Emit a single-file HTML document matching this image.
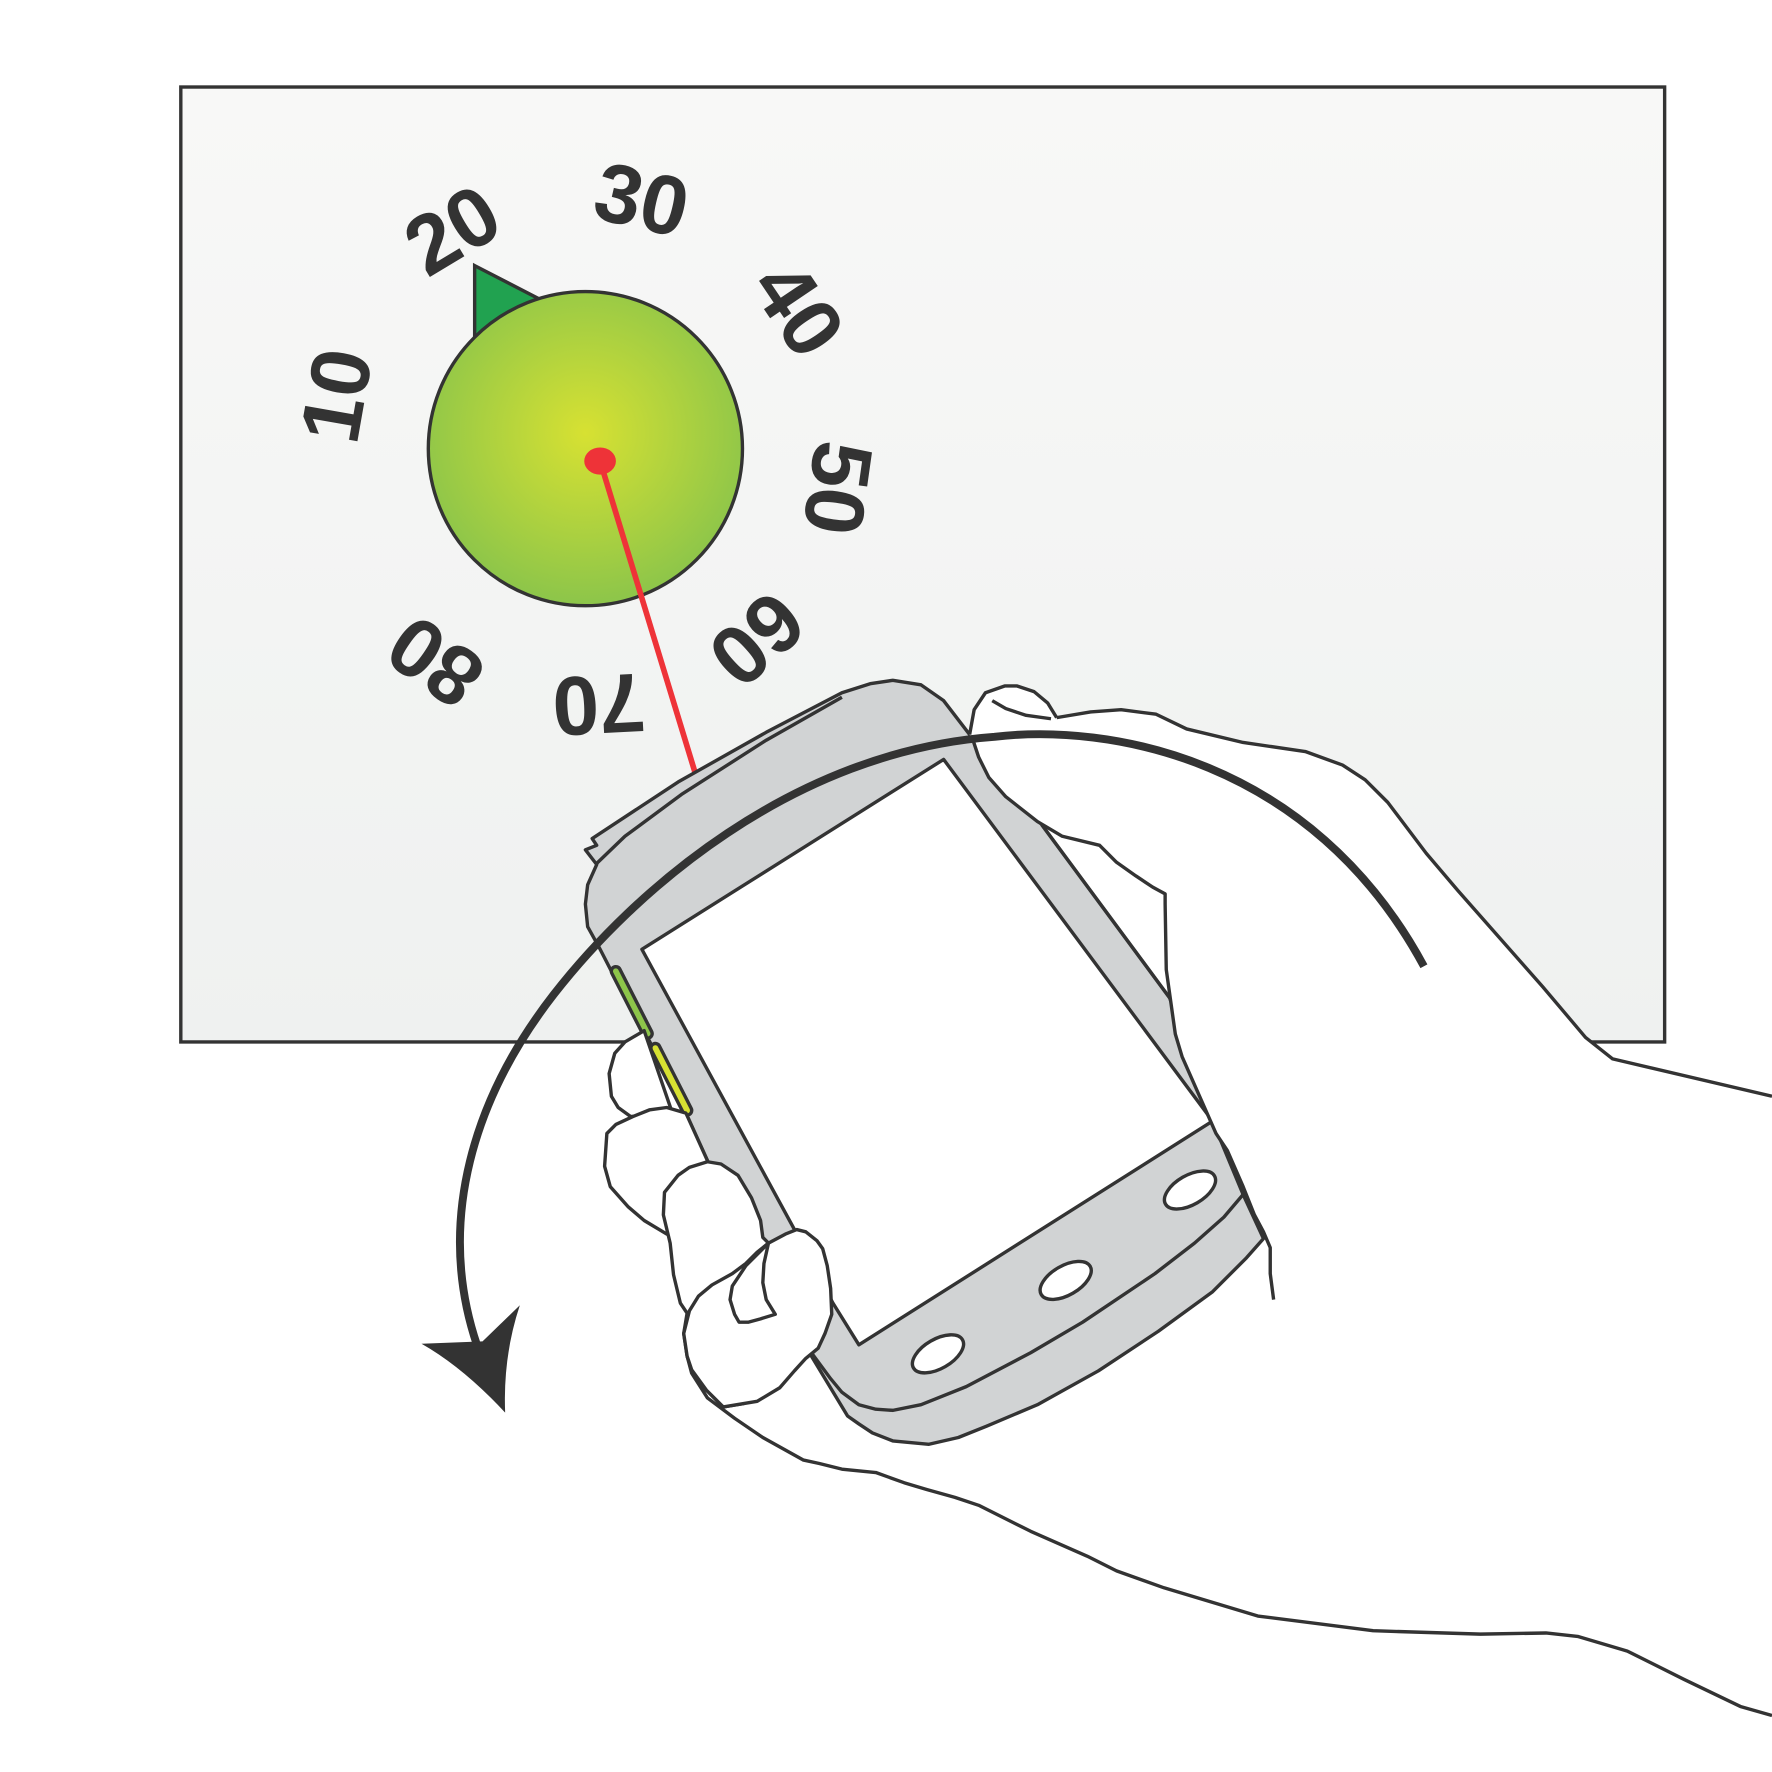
<!DOCTYPE html>
<html><head><style>html,body{margin:0;padding:0;background:#fff}svg{display:block}</style></head>
<body>
<svg width="1772" height="1772" viewBox="0 0 1568 1568" xmlns="http://www.w3.org/2000/svg">
<defs>
<linearGradient id="bg" x1="0" y1="0" x2="0" y2="1"><stop offset="0" stop-color="#f8f8f7"/><stop offset="1" stop-color="#eff1f0"/></linearGradient>
<radialGradient id="dg" cx="0.5" cy="0.45" r="0.55"><stop offset="0" stop-color="#d7e132"/><stop offset="1" stop-color="#8cc54a"/></radialGradient>
</defs>
<rect x="160" y="77" width="1313" height="845" fill="url(#bg)" stroke="#333" stroke-width="3"/>
<polygon points="420,235 480,266 420,300" fill="#21a250" stroke="#333" stroke-width="3"/>
<circle cx="518" cy="397" r="139" fill="url(#dg)" stroke="#333" stroke-width="3"/>
<g font-family="Liberation Sans, sans-serif" font-weight="bold" font-size="74" fill="#333" text-anchor="middle">
<text transform="translate(297,350) rotate(-80)" dy="26">10</text>
<text transform="translate(400,203) rotate(-31)" dy="26">20</text>
<text transform="translate(568,176) rotate(13)" dy="26">30</text>
<text transform="translate(707,273) rotate(56)" dy="26">40</text>
<text transform="translate(742,432) rotate(98)" dy="26">50</text>
<text transform="translate(670,566) rotate(138)" dy="26">60</text>
<text transform="translate(530,624) rotate(177)" dy="26">70</text>
<text transform="translate(385,586) rotate(215)" dy="26">80</text>
</g>
<line x1="531" y1="408" x2="617" y2="690" stroke="#ee3338" stroke-width="5"/>
<ellipse cx="531" cy="408" rx="14" ry="12" fill="#ee3338"/>
<path d="M860,650 L862,628 872,613 889,607 900,607 915,612 927,622 935,635 965,630 992,628 1023,632 1050,645 1100,657 1155,665 1188,677 1208,690 1228,710 1262,755 1290,788 1365,873 1403,918 1427,937 1568,970 L1568,1518 1540,1510 1490,1486 1440,1461 1396,1448 1368,1445 1310,1446 1215,1443 1113,1430 1030,1405 988,1390 962,1377 912,1355 866,1332 845,1325 820,1318 800,1312 775,1303 745,1300 725,1295 711,1292 675,1272 650,1255 626,1237 608,1200 700,1000 Z" fill="#fff"/>
<g fill="none" stroke="#333" stroke-width="3" stroke-linejoin="round">
<polyline points="1568,1518 1540,1510 1490,1486 1440,1461 1396,1448 1368,1445 1310,1446 1215,1443 1113,1430 1030,1405 988,1390 962,1377 912,1355 866,1332 845,1325 820,1318 800,1312 775,1303 745,1300 725,1295 711,1292 675,1272 650,1255 626,1237 612,1215 608,1200"/>
</g>
<path d="M524,742 L600,692 678,648 745,613 770,605 790,602 815,606 835,620 858,650 L922,730 L1035,883 L1073,992 L1100,1057 L1118,1096 1103,1113 1073,1143 1025,1178 972,1213 918,1243 873,1262 848,1272 822,1278 790,1275 772,1268 760,1260 750,1253 718,1200 L626,1027 607,985 570,912 548,873 530,838 520,820 518,800 520,783 528,765 518,752 528,748 Z" fill="#d1d3d4" stroke="#333" stroke-width="3" stroke-linejoin="round"/>
<polygon points="568,840 835,672 1073,992 760,1190 737,1153 703,1088" fill="#fff" stroke="#333" stroke-width="3" stroke-linejoin="round"/>
<g fill="none" stroke="#333" stroke-width="3" stroke-linejoin="round">
<polyline points="527,765 553,740 603,703 678,655 745,617"/>
<polyline points="1100,1057 1083,1077 1057,1100 1022,1127 958,1170 912,1197 855,1227 815,1243 790,1248 775,1247 760,1243 745,1232 735,1220 718,1197"/>
</g>
<g stroke="#333" stroke-width="3">
<rect x="555" y="852" width="8" height="70" rx="4" transform="rotate(-27 559 887)" fill="#8dc54a"/>
<rect x="590" y="920" width="8" height="70" rx="4" transform="rotate(-27 594 955)" fill="#d7e132"/>
<ellipse cx="830" cy="1198" rx="25" ry="13" transform="rotate(-30 830 1198)" fill="#fff"/>
<ellipse cx="943" cy="1133" rx="25" ry="13" transform="rotate(-30 943 1133)" fill="#fff"/>
<ellipse cx="1053" cy="1053" rx="25" ry="13" transform="rotate(-30 1053 1053)" fill="#fff"/>
</g>
<path d="M858,650 L862,628 872,613 889,607 900,607 915,612 927,622 935,635 L935,640 L860,655 Z" fill="#fff"/>
<path d="M860,652 L866,670 875,688 890,705 918,727 940,740 973,748 988,763 1005,775 1020,785 1031,791 1031,800 1032,858 1040,915 1046,935 1076,1003 1086,1018 1100,1050 1110,1075 1118,1090 1124,1104 1124,1127 1127,1150 L1568,1150 L1568,970 1427,937 1403,918 1365,873 1290,788 1262,755 1228,710 1208,690 1188,677 1155,665 1100,657 1050,645 1023,632 992,628 965,630 935,635 Z" fill="#fff"/>
<g fill="none" stroke="#333" stroke-width="3" stroke-linejoin="round">
<polyline points="935,635 965,630 992,628 1023,632 1050,645 1100,657 1155,665 1188,677 1208,690 1228,710 1262,755 1290,788 1365,873 1403,918 1427,937 1568,970"/>
<polyline points="858,650 862,628 872,613 889,607 900,607 915,612 927,622 935,635"/>
<polyline points="878,620 890,627 908,633 930,636"/>
<polyline points="860,652 866,670 875,688 890,705 918,727 940,740 973,748 988,763 1005,775 1020,785 1031,791 1031,800 1032,858 1040,915 1046,935 1076,1003 1086,1018 1100,1050 1110,1075 1118,1090 1124,1104 1124,1127 1127,1150"/>
<line x1="922" y1="730" x2="1035" y2="883"/>
</g>
<g fill="#fff" stroke="#333" stroke-width="3" stroke-linejoin="round">
<path d="M570,912 L553,922 544,932 539,950 541,970 547,980 558,988 L595,985 Z"/>
<path d="M560,988 L545,995 537,1003 535,1032 540,1050 556,1068 570,1080 590,1092 L626,1027 607,985 590,980 575,982 Z"/>
<path d="M626,1028 L610,1033 600,1040 588,1055 587,1075 593,1100 596,1128 602,1153 608,1162 L605,1180 608,1200 612,1212 625,1230 640,1245 658,1242 L680,1100 L675,1095 673,1080 665,1060 653,1040 638,1030 Z"/>
<path d="M680,1100 L695,1092 705,1088 713,1090 723,1098 728,1105 732,1120 735,1140 736,1163 730,1180 724,1193 713,1202 703,1213 690,1228 670,1240 658,1242 L640,1245 625,1230 612,1212 608,1200 605,1180 610,1160 618,1147 630,1137 648,1127 660,1118 670,1108 Z"/>
<path d="M680,1100 L676,1118 675,1135 678,1150 686,1163 673,1167 662,1170 654,1170 650,1163 646,1150 648,1138 660,1120 Z"/>
</g>
<path d="M1260,855 C1160,670 980,640 880,652 C700,665 560,790 490,880 C420,970 385,1080 422,1190" fill="none" stroke="#333" stroke-width="7"/>
<path d="M373,1189 L427,1187 L460,1155 Q445,1200 447,1250 Q410,1210 373,1189 Z" fill="#333"/>
</svg>
</body></html>
